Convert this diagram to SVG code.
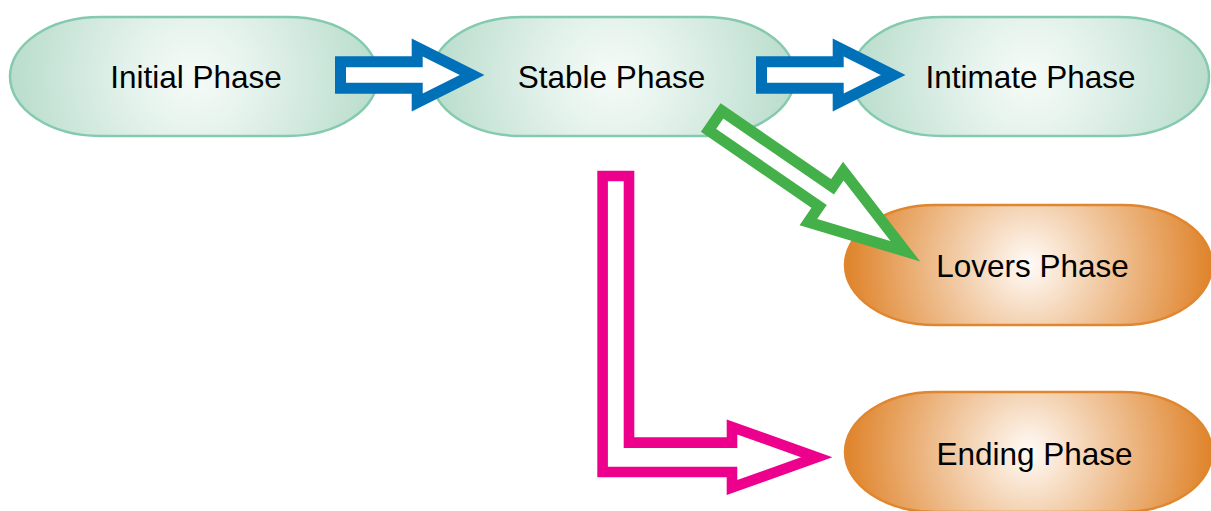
<svg xmlns="http://www.w3.org/2000/svg" width="1211" height="511" viewBox="0 0 1211 511">
<defs>
<radialGradient id="gGreen" cx="0.5" cy="0.5" r="0.5" gradientTransform="translate(0.5,0.5) scale(1,3.05) translate(-0.5,-0.5)">
<stop offset="0" stop-color="#f6fbf8"/>
<stop offset="0.35" stop-color="#e4f2ec"/>
<stop offset="1" stop-color="#b9ddcc"/>
</radialGradient>
<radialGradient id="gOrange" cx="0.5" cy="0.5" r="0.5" gradientTransform="translate(0.5,0.5) scale(1,3.05) translate(-0.5,-0.5)">
<stop offset="0" stop-color="#fffbf7"/>
<stop offset="0.35" stop-color="#f3d0ae"/>
<stop offset="1" stop-color="#df832a"/>
</radialGradient>
<style>
.ng{fill:url(#gGreen);stroke:#85caae;stroke-width:2.5}
.no{fill:url(#gOrange);stroke:#e0862f;stroke-width:2.5}
.t{font-family:"Liberation Sans",Arial,sans-serif;font-size:31.5px;fill:#000;text-anchor:middle}
.arr{fill:#fff;stroke-width:11;stroke-linejoin:miter;stroke-miterlimit:6}
.blue{stroke:#0070b9}
.green{stroke:#43b04a}
.pink{stroke:#ec008c;stroke-width:10.6}
</style>
</defs>
<g id="node-initial">
<rect class="ng" x="10" y="17" width="368" height="119" rx="90" ry="59.5"/>
<text class="t" x="196" y="88">Initial Phase</text>
</g>
<g id="node-stable">
<rect class="ng" x="431" y="17" width="364" height="119" rx="90" ry="59.5"/>
<text class="t" x="611.5" y="88">Stable Phase</text>
</g>
<g id="node-intimate">
<rect class="ng" x="851" y="17" width="358" height="119" rx="90" ry="59.5"/>
<text class="t" x="1030.5" y="88">Intimate Phase</text>
</g>
<g id="node-lovers">
<rect class="no" x="845" y="205" width="367" height="120" rx="90" ry="60"/>
<text class="t" x="1032.5" y="277">Lovers Phase</text>
</g>
<g id="node-ending">
<rect class="no" x="845" y="392" width="367" height="120" rx="90" ry="60"/>
<text class="t" x="1034.5" y="465">Ending Phase</text>
</g>
<g id="connectors">
<polygon class="arr blue" points="340.5,61.8 417.2,61.8 417.2,47.5 472.2,75 417.2,102.5 417.2,88.2 340.5,88.2"/>
<polygon class="arr blue" points="761.5,61.8 838.2,61.8 838.2,47.5 893.2,75 838.2,102.5 838.2,88.2 761.5,88.2"/>
<polygon class="arr green" transform="translate(710.7,117.5) rotate(34.5)" points="5.5,-11.85 139.7,-11.85 139.7,-30.86 236.15,0 139.7,30.86 139.7,11.85 5.5,11.85"/>
<polygon class="arr pink" points="602.6,176 629,176 629,442.6 732,442.6 732,427 816.7,457.3 732,487.6 732,472 602.6,472"/>
</g>
</svg>
